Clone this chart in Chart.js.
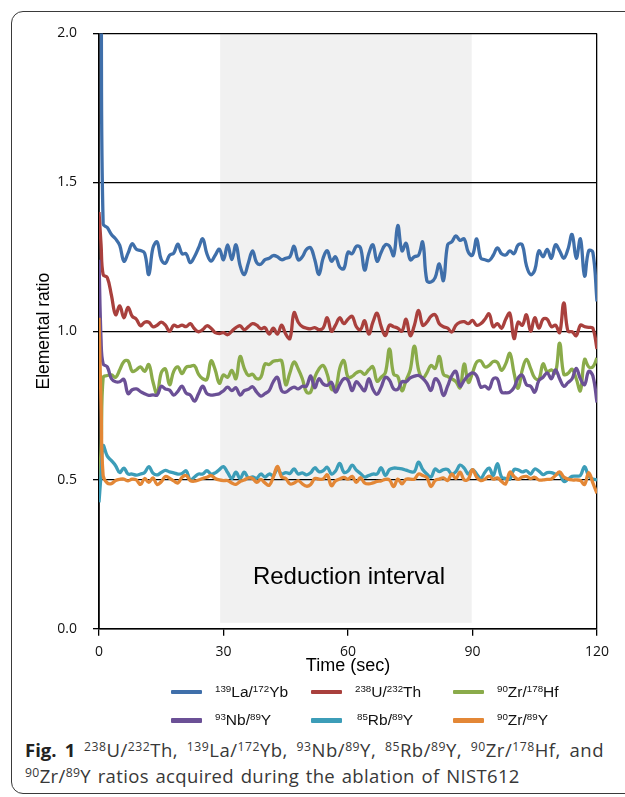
<!DOCTYPE html>
<html>
<head>
<meta charset="utf-8">
<script src="https://cdn.jsdelivr.net/npm/chart.js@4.4.1/dist/chart.umd.min.js"></script>
<style>
  html, body { margin: 0; padding: 0; background: #fff; }
  body { width: 625px; height: 797px; position: relative; overflow: hidden; }
  .frame { position: absolute; left: 11px; top: 11px; width: 660px; height: 783px;
           border: 1.3px solid #3a3a3a; border-radius: 12px; box-sizing: border-box; }
  #wrap { position: absolute; left: 0; top: 0; width: 625px; height: 700px; }
  .sw { position: absolute; height: 4.5px; width: 31px; border-radius: 1px; }
  .lg { position: absolute; font-family: "Liberation Sans", Arial, sans-serif; font-size: 15.5px; color: #111; line-height: 18px; white-space: nowrap; }
  .lg sup { font-size: 0.63em; vertical-align: 0.5em; line-height: 0; }
  .ri { position: absolute; left: 150px; width: 398px; top: 562px; text-align: center;
        font-family: "Liberation Sans", Arial, sans-serif; font-size: 24px; color: #000; }
  .cap { position: absolute; left: 25px; width: 579px; font-family: "Open Sans", sans-serif;
         font-size: 18.5px; line-height: 25px; color: #383838; white-space: nowrap; }
  .cap sup { font-size: 0.66em; vertical-align: 0.48em; line-height: 0; }
  .cap b { color: #222; letter-spacing: 0; }
  .l1 { top: 737px; text-align: justify; text-align-last: justify; white-space: normal; letter-spacing: 0.5px; }
  .l2 { top: 763px; letter-spacing: 0.35px; word-spacing: 1.5px; }
</style>
</head>
<body>
<div class="frame"></div>
<div id="wrap"><canvas id="c"></canvas></div>
<div class="ri">Reduction interval</div>

<div class="sw" style="left:171px;top:689.5px;background:#3f6faa"></div>
<div class="lg" style="left:215px;top:683px"><sup>139</sup>La/<sup>172</sup>Yb</div>
<div class="sw" style="left:311px;top:689.5px;background:#a9403d"></div>
<div class="lg" style="left:355px;top:683px"><sup>238</sup>U/<sup>232</sup>Th</div>
<div class="sw" style="left:453px;top:689.5px;background:#8aab4a"></div>
<div class="lg" style="left:497px;top:683px"><sup>90</sup>Zr/<sup>178</sup>Hf</div>
<div class="sw" style="left:171px;top:718px;background:#6b5096"></div>
<div class="lg" style="left:215px;top:711px"><sup>93</sup>Nb/<sup>89</sup>Y</div>
<div class="sw" style="left:311px;top:718px;background:#3c9db8"></div>
<div class="lg" style="left:357px;top:711px"><sup>85</sup>Rb/<sup>89</sup>Y</div>
<div class="sw" style="left:453px;top:718px;background:#e38736"></div>
<div class="lg" style="left:497px;top:711px"><sup>90</sup>Zr/<sup>89</sup>Y</div>

<div class="cap l1"><b>Fig. 1</b> <sup>238</sup>U/<sup>232</sup>Th, <sup>139</sup>La/<sup>172</sup>Yb, <sup>93</sup>Nb/<sup>89</sup>Y, <sup>85</sup>Rb/<sup>89</sup>Y, <sup>90</sup>Zr/<sup>178</sup>Hf, and</div>
<div class="cap l2"><sup>90</sup>Zr/<sup>89</sup>Y ratios acquired during the ablation of NIST612</div>

<script>
// ---- data (time in seconds) ----
const times = [0,0.5,1,2,3,4,5,6,7,8,9,10,11,12,13,14,15,16,17,18,19,20,21,22,23,24,25,26,27,28,29,30,31,32,33,34,35,36,37,38,39,40,41,42,43,44,45,46,47,48,49,50,51,52,53,54,55,56,57,58,59,60,61,62,63,64,65,66,67,68,69,70,71,72,73,74,75,76,77,78,79,80,81,82,83,84,85,86,87,88,89,90,91,92,93,94,95,96,97,98,99,100,101,102,103,104,105,106,107,108,109,110,111,112,113,114,115,116,117,118,119,120];

const laYb = [3.0,2.2,1.36,1.348,1.325,1.31,1.288,1.235,1.262,1.294,1.275,1.271,1.262,1.19,1.28,1.30,1.24,1.228,1.255,1.262,1.292,1.26,1.26,1.23,1.25,1.28,1.31,1.26,1.235,1.255,1.275,1.24,1.29,1.24,1.29,1.22,1.19,1.23,1.27,1.23,1.225,1.24,1.245,1.254,1.25,1.24,1.245,1.25,1.285,1.24,1.25,1.275,1.28,1.24,1.19,1.245,1.27,1.235,1.25,1.215,1.21,1.265,1.26,1.285,1.28,1.205,1.26,1.29,1.235,1.265,1.29,1.285,1.254,1.355,1.27,1.295,1.24,1.25,1.255,1.299,1.17,1.165,1.18,1.226,1.17,1.29,1.30,1.32,1.305,1.31,1.265,1.255,1.31,1.245,1.24,1.237,1.255,1.28,1.26,1.256,1.27,1.26,1.29,1.29,1.22,1.19,1.205,1.27,1.25,1.275,1.245,1.29,1.27,1.245,1.275,1.325,1.245,1.31,1.185,1.27,1.265,1.10];

const uTh = [1.40,1.29,1.19,1.18,1.12,1.055,1.085,1.045,1.08,1.05,1.04,1.018,1.03,1.03,1.015,1.02,1.03,1.02,1.0,1.02,1.015,1.02,1.015,1.025,1.008,0.998,1.005,1.018,1.01,0.995,0.992,0.995,0.988,1.0,1.012,1.018,1.005,1.015,1.025,1.02,1.008,1.012,0.99,1.01,0.99,1.02,0.99,0.975,1.062,1.03,1.015,1.01,1.008,1.012,1.005,1.01,1.045,1.0,1.02,1.045,1.025,1.04,1.05,1.015,1.005,1.035,0.99,1.03,1.06,1.015,0.985,1.02,1.015,1.01,1.0,1.04,0.985,1.02,1.07,1.02,1.03,1.05,1.055,1.025,1.015,1.01,0.997,1.02,1.03,1.032,1.025,1.036,1.02,1.025,1.04,1.058,1.015,1.025,1.01,1.04,1.06,0.975,1.03,1.02,1.055,1.0,1.045,1.01,1.04,1.04,1.015,1.02,0.995,1.095,1.0,0.998,0.985,1.02,1.015,1.013,1.01,0.94];

const zrHf = [0.50,0.60,0.845,0.851,0.853,0.845,0.87,0.898,0.90,0.865,0.87,0.88,0.865,0.888,0.83,0.79,0.86,0.873,0.82,0.865,0.88,0.857,0.879,0.882,0.884,0.855,0.84,0.838,0.90,0.87,0.825,0.853,0.845,0.868,0.84,0.915,0.875,0.851,0.855,0.84,0.845,0.89,0.888,0.899,0.901,0.901,0.82,0.86,0.896,0.873,0.84,0.795,0.795,0.845,0.873,0.885,0.855,0.805,0.805,0.875,0.901,0.845,0.848,0.86,0.865,0.855,0.87,0.88,0.832,0.845,0.86,0.94,0.855,0.848,0.80,0.835,0.87,0.95,0.87,0.842,0.86,0.885,0.875,0.915,0.855,0.848,0.84,0.83,0.81,0.89,0.828,0.86,0.896,0.90,0.88,0.885,0.898,0.895,0.868,0.89,0.925,0.86,0.808,0.87,0.905,0.875,0.843,0.838,0.89,0.863,0.87,0.86,0.96,0.855,0.858,0.872,0.84,0.80,0.905,0.88,0.88,0.91];

const nbY = [1.24,0.97,0.89,0.88,0.84,0.83,0.83,0.838,0.79,0.803,0.806,0.797,0.79,0.784,0.786,0.785,0.815,0.806,0.802,0.785,0.798,0.815,0.792,0.785,0.765,0.79,0.815,0.79,0.785,0.787,0.79,0.80,0.812,0.80,0.81,0.785,0.80,0.805,0.813,0.795,0.782,0.79,0.80,0.83,0.845,0.80,0.795,0.805,0.812,0.806,0.815,0.815,0.85,0.81,0.84,0.823,0.818,0.828,0.795,0.82,0.84,0.835,0.80,0.83,0.815,0.80,0.84,0.805,0.788,0.812,0.845,0.835,0.806,0.805,0.83,0.83,0.843,0.849,0.851,0.842,0.825,0.801,0.84,0.825,0.784,0.815,0.85,0.865,0.815,0.835,0.851,0.86,0.85,0.812,0.815,0.806,0.84,0.84,0.795,0.793,0.795,0.81,0.843,0.852,0.82,0.815,0.795,0.834,0.845,0.86,0.84,0.87,0.84,0.815,0.827,0.84,0.875,0.84,0.82,0.865,0.85,0.76];

const rbY = [0.425,0.52,0.615,0.58,0.565,0.548,0.525,0.54,0.52,0.52,0.516,0.52,0.525,0.545,0.523,0.517,0.525,0.532,0.527,0.524,0.52,0.522,0.531,0.50,0.51,0.52,0.52,0.531,0.52,0.524,0.535,0.545,0.525,0.505,0.526,0.505,0.526,0.507,0.51,0.506,0.52,0.51,0.52,0.515,0.537,0.52,0.525,0.522,0.537,0.52,0.524,0.517,0.524,0.541,0.528,0.531,0.543,0.52,0.53,0.556,0.526,0.53,0.55,0.533,0.522,0.51,0.515,0.52,0.52,0.541,0.515,0.535,0.54,0.539,0.537,0.533,0.528,0.528,0.56,0.535,0.52,0.51,0.537,0.528,0.535,0.535,0.52,0.528,0.55,0.54,0.52,0.535,0.52,0.505,0.526,0.54,0.515,0.555,0.51,0.505,0.503,0.535,0.534,0.527,0.531,0.52,0.537,0.53,0.518,0.525,0.525,0.52,0.52,0.495,0.502,0.512,0.513,0.515,0.545,0.513,0.503,0.50];

const zrY = [1.045,0.75,0.515,0.49,0.488,0.498,0.502,0.503,0.497,0.503,0.50,0.485,0.505,0.492,0.507,0.485,0.494,0.512,0.506,0.497,0.49,0.509,0.515,0.498,0.496,0.50,0.505,0.509,0.515,0.505,0.50,0.498,0.498,0.49,0.485,0.495,0.50,0.507,0.505,0.492,0.502,0.49,0.482,0.51,0.546,0.51,0.505,0.487,0.49,0.498,0.487,0.479,0.485,0.505,0.503,0.503,0.517,0.481,0.497,0.503,0.509,0.503,0.512,0.492,0.508,0.49,0.487,0.49,0.495,0.497,0.502,0.50,0.478,0.503,0.487,0.503,0.503,0.503,0.52,0.515,0.508,0.478,0.498,0.503,0.507,0.498,0.52,0.505,0.526,0.50,0.503,0.535,0.509,0.498,0.503,0.513,0.503,0.507,0.495,0.487,0.526,0.512,0.502,0.51,0.512,0.505,0.509,0.50,0.50,0.502,0.503,0.515,0.527,0.51,0.503,0.50,0.50,0.498,0.485,0.525,0.49,0.455];

const seriesNames = ['139La/172Yb','238U/232Th','90Zr/178Hf','93Nb/89Y','85Rb/89Y','90Zr/89Y'];
const seriesColors = ['#3f6faa','#a9403d','#8aab4a','#6b5096','#3c9db8','#e38736'];
const xTicks = [0, 30, 60, 90, 120];
const yTicks = [0, 0.5, 1.0, 1.5, 2.0];
const reductionStart = 29.2, reductionEnd = 89.8, reductionBottom = 0.02;

const allSeries = [laYb, uTh, zrHf, nbY, rbY, zrY];

const shadePlugin = {
  id: 'shade',
  beforeDraw(chart) {
    const {ctx, scales: {x, y}} = chart;
    const x1 = x.getPixelForValue(reductionStart), x2 = x.getPixelForValue(reductionEnd);
    const y1 = y.getPixelForValue(2.0), y2 = y.getPixelForValue(reductionBottom);
    ctx.save();
    ctx.fillStyle = '#f1f1f1';
    ctx.fillRect(x1, y1, x2 - x1, y2 - y1);
    ctx.restore();
  }
};

const datasets = allSeries.map((arr, i) => ({
  label: seriesNames[i],
  data: times.map((t, j) => ({x: t, y: arr[j]})),
  borderColor: seriesColors[i],
  backgroundColor: seriesColors[i],
  borderWidth: 3.3,
  pointRadius: 0,
  tension: 0.4,
  fill: false,
  order: allSeries.length - i
}));

new Chart(document.getElementById('c'), {
  type: 'line',
  data: { datasets },
  plugins: [shadePlugin],
  options: {
    responsive: true,
    maintainAspectRatio: false,
    animation: false,
    events: [],
    layout: { padding: { left: 0, top: 33.5, right: 28, bottom: 0 } },
    plugins: { legend: { display: false }, tooltip: { enabled: false } },
    scales: {
      x: {
        type: 'linear', min: 0, max: 120,
        afterBuildTicks(s) { s.ticks = xTicks.map(v => ({value: v})); },
        afterFit(s) { s.height = 71.2; },
        ticks: { color: '#111', font: { family: '"Open Sans", sans-serif', size: 14 }, padding: 8, maxRotation: 0 },
        grid: {
          color: c => (c.tick && c.tick.value === 120) ? '#000' : 'rgba(0,0,0,0)',
          tickColor: '#000', tickLength: 7, lineWidth: 1.3
        },
        border: { display: true, color: '#000', width: 1.6 },
        title: { display: true, text: 'Time (sec)', color: '#000',
                 font: { family: '"Liberation Sans", Arial, sans-serif', size: 18 }, padding: { top: 0, bottom: 23 } }
      },
      y: {
        type: 'linear', min: 0, max: 2,
        afterBuildTicks(s) { s.ticks = yTicks.map(v => ({value: v})); },
        afterFit(s) { s.width = 99; },
        ticks: { color: '#111', font: { family: '"Open Sans", sans-serif', size: 14 }, padding: 16,
                 callback: v => Number(v).toFixed(1) },
        grid: { color: '#000', tickColor: '#000', tickLength: 6, lineWidth: 1.3 },
        border: { display: true, color: '#000', width: 1.8 },
        title: { display: true, text: 'Elemental ratio', color: '#000',
                 font: { family: '"Liberation Sans", Arial, sans-serif', size: 17.5 }, padding: { top: 34, bottom: 0 } }
      }
    }
  }
});
</script>
</body>
</html>
